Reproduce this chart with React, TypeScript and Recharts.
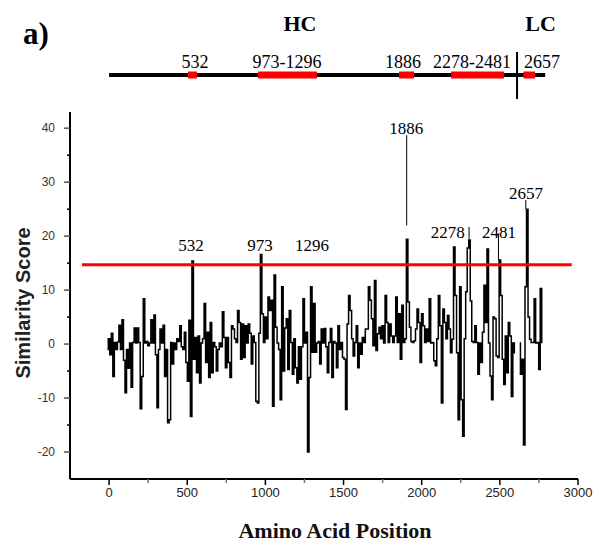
import React from 'react';
import {
  ComposedChart,
  Line,
  XAxis,
  YAxis,
  ReferenceLine,
  ReferenceDot,
} from 'recharts';

/* ---------- data ---------- */

// similarity score per window, sampled along the sequence
const SCAN_START = -10;
const SCAN_STEP = 9.73;
const SCORES: (number | null)[] = [
  // 0 - 430
  -1, 1, -2, 2, -6, 0.3, -1, 0.4, 3.5, -1,
  4.5, -3, -9, -1, -4.5, 0.2, -8, 0.3, 3, 0.2,
  3, 0.3, -12, -6, 8.4, 0.2, 0.5, -0.3, 0.2, 4.5,
  0.2, 5.4, -2, -11.8, -1, 2.8, 0.2, 3.5, -6, -1,
  -14.6, -14, 0.3, -3.7,
  // 440 - 920
  0.2, -1, 1, 0.5, 3.4, -0.5, -1, 2.2, -3.4, -6.9,
  4.4, -13.4, 15.4, -2.8, 1.2, -5.3, 1.5, -7.2, 0.2, 1,
  7.5, -3.4, 2.2, -6.2, 4, -5.3, 0.3, -0.5, -5, -1,
  0.2, -0.5, 6, 1.2, -4.4, 1.2, -3.4, -6.2, 3.4, 2.8,
  1, 0.3, 6.2, 4, -2.8, 3.7, -2.5, 3.4, 0.2,
  // 930 - 1420
  3.7, 2, -3.7, 1.5, 0.3, -10.6, -10.9, 2, 16.6, 5.6,
  0.3, 5, 1, 8.7, 6.2, 8.1, -11.5, 12.8, 3.1, 0.2,
  -1, -10.3, 10.6, -5, 3, 4.7, -4.7, 6.2, 0.3, -5.6,
  1, -4.4, -7.2, -0.5, -6.5, -0.5, 8.4, 0.2, 2.2, -20,
  -6.2, 10.6, -1.5, 7.5, -1.5, 0.2, 0.5, -3.7, 2.8, 0.2,
  // 1430 - 1910
  2.9, -0.5, -5.3, 0.3, 2.9, -6.2, 0.5, 0.2, -4.4, 3.4,
  -1, 0.3, -2.5, -2.8, -12.1, 3.7, 9, 6.2, 1, -2.2,
  0.3, 3.4, -4.4, 0.2, -1.9, 1.2, 0.3, 2.8, 2.8, 10.6,
  8.1, 4.7, -0.3, 11.8, -1.2, 1.9, 3.1, 1, 3.4, 0.2,
  9, 4, 0.3, 3.7, 1.5, 0.3, 1.5, 8.7, 0.3,
  // 1920 - 2410
  5.6, -2.8, 7.2, 0.3, 1, 19.4, 7.8, 3.1, 0.5, 0.3,
  0.6, 2.8, 6.5, 4, -3.4, 5.6, 3.4, 0.3, 2.8, 0.5,
  8.4, 0.2, 0.3, -3.1, -4, 1, 9, 3.4, -10.9, 6.5,
  4, 1, 5.3, 2.8, -1.6, 0.9, 18, 9, -1.6, -14,
  10.6, -10.3, -17.1, 1, 9.7, 17.8, 19.3, 8, 0.5, 0.3,
  // 2420 - 2860
  3.4, 0.3, -5.6, 0.2, -3.4, 2.2, 10.9, 4, 17.6, 0.2,
  -5.9, -10.3, 5, 4.7, -2.2, -2.5, 15.6, 9, -2.8, -7.5,
  1.5, -5.3, 4, 1.5, -9.7, 0.2, -1.6, null, null, 0.2,
  -5.6, -2.8, -18.7, 10.6, 25, 5, 0.9, 0.3, 0.3, 8.4,
  0.2, 0.3, -4.7, 10.3, 0.3,
];

const THRESHOLD = 14.7;
const THRESHOLD_SPAN = [-173, 2960];

const X_DOMAIN: [number, number] = [-250, 3000];
const Y_DOMAIN: [number, number] = [-25, 43];
const X_TICKS = [0, 250, 500, 750, 1000, 1250, 1500, 1750, 2000, 2250, 2500, 2750, 3000];
const Y_TICKS = [-20, -15, -10, -5, 0, 5, 10, 15, 20, 25, 30, 35, 40];

// peak labels above the profile
const PEAK_LABELS = [
  { text: '532', pos: 524, score: 18.3 },
  { text: '973', pos: 966, score: 18.3 },
  { text: '1296', pos: 1299, score: 18.3 },
  { text: '1886', pos: 1902, score: 40 },
  { text: '2278', pos: 2167, score: 20.7 },
  { text: '2481', pos: 2494, score: 20.7 },
  { text: '2657', pos: 2667, score: 28 },
];
// thin leader lines from labels down to peaks
const LEADERS = [
  { pos: 1904, from: 22, to: 38.7 },
  { pos: 2303, from: 19.5, to: 21.7 },
  { pos: 2491, from: 15.6, to: 20.5 },
  { pos: 2666, from: 25, to: 26.7 },
];

// schematic of the protein with the conserved regions
const PROTEIN_SPAN = [0, 2790];
const HC_LC_BOUNDARY = 2610;
const REGIONS = [
  { text: '532', from: 505, to: 562, labelAt: 550 },
  { text: '973-1296', from: 953, to: 1330, labelAt: 1138 },
  { text: '1886', from: 1855, to: 1951, labelAt: 1880 },
  { text: '2278-2481', from: 2188, to: 2527, labelAt: 2322 },
  { text: '2657', from: 2651, to: 2725, labelAt: 2770 },
];
const CHAIN_LABELS = [
  { text: 'HC', pos: 1221 },
  { text: 'LC', pos: 2760 },
];

const scanData = SCORES.map((s, i) => ({ pos: SCAN_START + i * SCAN_STEP, score: s }));

/* ---------- layout ---------- */

const W = 599;
const H = 546;
const PLOT_LEFT = 70;
const PLOT_RIGHT = 578;
const TOP_H = 112;
const PX_PER_UNIT = (PLOT_RIGHT - PLOT_LEFT) / (X_DOMAIN[1] - X_DOMAIN[0]);
const TOP_X_DOMAIN: [number, number] = [
  X_DOMAIN[0] - PLOT_LEFT / PX_PER_UNIT,
  X_DOMAIN[1] + (W - PLOT_RIGHT) / PX_PER_UNIT,
];
// rows of the schematic (top chart uses a pixel-like y scale)
const ROW_CHAIN = 23;
const ROW_LABEL = 62;
const ROW_BAR = 75;

const SERIF = '"Liberation Serif", "Times New Roman", serif';
const SANS = '"Liberation Sans", Arial, sans-serif';

const XTick = (props: any) => {
  const { x, y, payload } = props;
  const v = payload.value;
  const major = v % 500 === 0;
  return (
    <g>
      <line x1={x} x2={x} y1={y} y2={y + (major ? 6 : 4)} stroke={major ? '#000' : '#777'} strokeWidth={1.5} />
      {major && (
        <text x={x} y={y + 13} textAnchor="middle" dominantBaseline="central" fontSize={13} fontFamily={SANS} fill="#222">
          {v}
        </text>
      )}
    </g>
  );
};

const YTick = (props: any) => {
  const { x, y, payload } = props;
  const v = payload.value;
  const major = v % 10 === 0;
  return (
    <g>
      <line x1={x} x2={x - (major ? 6 : 3)} y1={y} y2={y} stroke={major ? '#555' : '#000'} strokeWidth={1.5} />
      {major && (
        <text x={x - 15} y={y} textAnchor="end" dominantBaseline="central" fontSize={12} fontFamily={SANS} fill="#333">
          {v}
        </text>
      )}
    </g>
  );
};

const textLabel = (value: string, fontSize: number, extra: any = {}) => ({
  value,
  position: 'center' as const,
  fontSize,
  fontFamily: SERIF,
  fill: '#000',
  ...extra,
});

export default function App() {
  return (
    <div style={{ position: 'absolute', left: 0, top: 0, width: W, height: H, background: '#fff' }}>
      <div style={{ position: 'absolute', left: 0, top: 0 }}>
        <ComposedChart
          width={W}
          height={H}
          data={scanData}
          margin={{ top: TOP_H, right: W - PLOT_RIGHT, bottom: 37, left: 10 }}
        >
          <XAxis
            dataKey="pos"
            type="number"
            domain={X_DOMAIN}
            ticks={X_TICKS}
            allowDataOverflow
            height={30}
            tickSize={0}
            tickMargin={0}
            tickLine={false}
            tick={<XTick />}
            axisLine={{ stroke: '#000', strokeWidth: 2 }}
            label={{
              content: () => (
                <text x={335} y={538} textAnchor="middle" fontSize={22} fontWeight="bold" fontFamily={SERIF} fill="#111">
                  Amino Acid Position
                </text>
              ),
            }}
          />
          <YAxis
            type="number"
            domain={Y_DOMAIN}
            ticks={Y_TICKS}
            allowDataOverflow
            width={60}
            tickSize={0}
            tickMargin={0}
            tickLine={false}
            tick={<YTick />}
            axisLine={{ stroke: '#000', strokeWidth: 2 }}
            label={{
              content: () => (
                <text
                  x={23}
                  y={303}
                  transform="rotate(-90 23 303)"
                  textAnchor="middle"
                  dominantBaseline="central"
                  fontSize={20}
                  fontWeight="bold"
                  fontFamily={SANS}
                  fill="#222"
                >
                  Similarity Score
                </text>
              ),
            }}
          />
          <Line
            type="step"
            dataKey="score"
            stroke="#000"
            strokeWidth={1.5}
            dot={false}
            connectNulls={false}
            isAnimationActive={false}
          />
          <ReferenceLine
            segment={[
              { x: THRESHOLD_SPAN[0], y: THRESHOLD },
              { x: THRESHOLD_SPAN[1], y: THRESHOLD },
            ]}
            stroke="#f00"
            strokeWidth={3}
            ifOverflow="visible"
          />
          {LEADERS.map((l, i) => (
            <ReferenceLine
              key={`ld-${i}`}
              segment={[
                { x: l.pos, y: l.from },
                { x: l.pos, y: l.to },
              ]}
              stroke="#000"
              strokeWidth={1}
              ifOverflow="visible"
            />
          ))}
          {PEAK_LABELS.map((p) => (
            <ReferenceDot
              key={`pk-${p.text}`}
              x={p.pos}
              y={p.score}
              r={0}
              fill="none"
              stroke="none"
              ifOverflow="visible"
              label={textLabel(p.text, 17)}
            />
          ))}
        </ComposedChart>
      </div>

      <div style={{ position: 'absolute', left: 0, top: 0 }}>
        <ComposedChart width={W} height={TOP_H} data={REGIONS} margin={{ top: 0, right: 0, bottom: 0, left: 0 }}>
          <XAxis type="number" dataKey="from" domain={TOP_X_DOMAIN} allowDataOverflow hide />
          <YAxis type="number" domain={[0, TOP_H]} reversed allowDataOverflow hide />
          <ReferenceLine
            segment={[
              { x: PROTEIN_SPAN[0], y: ROW_BAR },
              { x: PROTEIN_SPAN[1], y: ROW_BAR },
            ]}
            stroke="#000"
            strokeWidth={4}
            ifOverflow="visible"
          />
          <ReferenceLine
            segment={[
              { x: HC_LC_BOUNDARY, y: 52 },
              { x: HC_LC_BOUNDARY, y: 99 },
            ]}
            stroke="#000"
            strokeWidth={2}
            ifOverflow="visible"
          />
          {REGIONS.map((r) => (
            <ReferenceLine
              key={`rg-${r.text}`}
              segment={[
                { x: r.from, y: ROW_BAR },
                { x: r.to, y: ROW_BAR },
              ]}
              stroke="#f00"
              strokeWidth={7}
              ifOverflow="visible"
            />
          ))}
          {REGIONS.map((r) => (
            <ReferenceDot
              key={`rl-${r.text}`}
              x={r.labelAt}
              y={ROW_LABEL}
              r={0}
              fill="none"
              stroke="none"
              ifOverflow="visible"
              label={textLabel(r.text, 18)}
            />
          ))}
          {CHAIN_LABELS.map((c) => (
            <ReferenceDot
              key={`ch-${c.text}`}
              x={c.pos}
              y={ROW_CHAIN}
              r={0}
              fill="none"
              stroke="none"
              ifOverflow="visible"
              label={textLabel(c.text, 22, { fontWeight: 'bold' })}
            />
          ))}
          <ReferenceDot
            x={TOP_X_DOMAIN[0] + 36 / PX_PER_UNIT}
            y={33}
            r={0}
            fill="none"
            stroke="none"
            ifOverflow="visible"
            label={textLabel('a)', 31, { fontWeight: 'bold' })}
          />
        </ComposedChart>
      </div>
    </div>
  );
}
